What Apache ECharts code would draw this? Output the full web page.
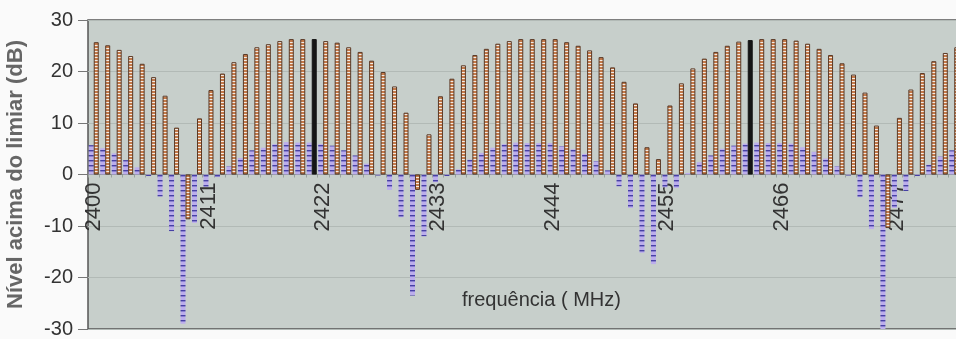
<!DOCTYPE html>
<html>
<head>
<meta charset="utf-8">
<script src="https://cdn.jsdelivr.net/npm/echarts@6/dist/echarts.min.js"></script>
<style>
  html, body { margin: 0; padding: 0; overflow: hidden; background: #fafafa; }
  #graph1 { width: 966px; height: 339px; }
</style>
</head>
<body>
<div id="graph1"></div>
<script>
var myChart1 = echarts.init(document.getElementById('graph1'));

// frequency steps of 1.1 MHz, label shown every 10th
var freq = ['2400','2401.1','2402.2','2403.3','2404.4','2405.5','2406.6','2407.7','2408.8','2409.9',
  '2411','2412.1','2413.2','2414.3','2415.4','2416.5','2417.6','2418.7','2419.8','2420.9',
  '2422','2423.1','2424.2','2425.3','2426.4','2427.5','2428.6','2429.7','2430.8','2431.9',
  '2433','2434.1','2435.2','2436.3','2437.4','2438.5','2439.6','2440.7','2441.8','2442.9',
  '2444','2445.1','2446.2','2447.3','2448.4','2449.5','2450.6','2451.7','2452.8','2453.9',
  '2455','2456.1','2457.2','2458.3','2459.4','2460.5','2461.6','2462.7','2463.8','2464.9',
  '2466','2467.1','2468.2','2469.3','2470.4','2471.5','2472.6','2473.7','2474.8','2475.9',
  '2477','2478.1','2479.2','2480.3','2481.4','2482.5'];

// blue dotted series
var nivelA = [5.7,5.1,4.1,2.8,1.4,-0.3,-4.3,-11.0,-29.0,-9.4,
  -2.4,-0.5,1.6,3.2,4.7,5.2,5.9,6.3,6.2,6.2,
  5.9,5.6,4.7,3.7,2.1,-0.2,-3.0,-8.3,-23.5,-12.0,
  -1.5,-0.3,1.0,2.9,4.2,5.2,5.9,6.2,6.1,6.1,
  6.1,5.5,4.9,4.0,2.6,0.8,-2.3,-6.5,-15.2,-17.4,
  -2.5,-2.6,0.3,2.4,3.7,5.0,5.6,6.0,6.2,6.1,
  6.1,6.0,5.3,4.4,3.1,1.6,-0.2,-4.4,-10.6,-30.0,
  -6.5,-3.2,-0.3,1.9,3.5,4.7];

// brown ladder series
var nivelB = [25.7,25.1,24.2,23.0,21.5,18.9,15.3,9.1,-8.7,10.9,
  16.4,19.6,21.8,23.4,24.7,25.3,25.9,26.3,26.3,26.3,
  25.9,25.6,24.7,23.8,22.1,19.9,17.1,12.0,-3.0,7.8,
  15.2,18.6,21.2,23.2,24.4,25.4,25.9,26.3,26.3,26.3,
  26.3,25.7,25.0,24.1,22.8,20.8,18.0,13.8,5.3,3.0,
  13.4,17.7,20.6,22.5,23.8,25.0,25.8,26.1,26.3,26.3,
  26.3,26.0,25.4,24.4,23.2,21.6,19.4,15.9,9.5,-10.4,
  11.0,16.5,19.7,22.0,23.6,24.7];

// bars drawn solid black
var blackBars = [19, 57];

var yTicks = [-30, -20, -10, 0, 10, 20, 30];

// grid height is 309, zero sits in the middle
var gridTop = 20, gridBottom = 10, gridH = 339 - gridTop - gridBottom;

function stripes(rows) {
  var c = document.createElement('canvas');
  c.width = 1; c.height = rows.length;
  var ctx = c.getContext('2d');
  for (var i = 0; i < rows.length; i++) {
    ctx.fillStyle = rows[i];
    ctx.fillRect(0, i, 1, 1);
  }
  return { image: c, repeat: 'repeat' };
}

var bluePat = stripes(['#4640a4','#8a80d0','#bcaeec','#bcaeec','#bcaeec']);
var brownPat = stripes(['#f4ede6','#c47a4a','#c47a4a']);

var brownData = nivelB.map(function (v, i) {
  if (blackBars.indexOf(i) >= 0) {
    return { value: v, itemStyle: { color: '#151515', borderColor: '#151515' } };
  }
  return v;
});

var option = {
  backgroundColor: '#fafafa',
  animation: false,
  title: {
    text: 'frequência ( MHz)',
    left: 457, top: 285,
    textStyle: { fontFamily: 'Liberation Sans, Arial', fontSize: 20, fontWeight: 'normal', color: '#333' }
  },
  grid: {
    left: 88, top: gridTop, right: 6, bottom: gridBottom,
    outerBoundsMode: 'none', containLabel: false,
    show: true, backgroundColor: '#c7cfcb', borderColor: '#555', borderWidth: 1.5
  },
  xAxis: {
    type: 'category',
    data: freq,
    position: 'bottom',
    offset: -gridH / 2,   // put the axis on the zero line
    axisLine: { onZero: false, lineStyle: { color: '#7d8581', width: 1 } },
    axisTick: { show: true, interval: 0, length: 3, lineStyle: { color: '#99a19d' } },
    axisLabel: {
      interval: 9, rotate: 90, margin: 8,
      fontFamily: 'Liberation Sans, Arial', fontSize: 22, color: '#333'
    },
    splitLine: { show: false }
  },
  yAxis: {
    type: 'value',
    min: yTicks[0], max: yTicks[yTicks.length - 1], interval: 10,
    name: 'Nível acima do limiar (dB)',
    nameLocation: 'middle', nameGap: 61,
    nameTextStyle: { fontFamily: 'Liberation Sans, Arial', fontSize: 22, fontWeight: 'bold', color: '#666' },
    axisLine: { show: false },
    axisTick: { show: true, length: 10, lineStyle: { color: '#777' } },
    axisLabel: { fontFamily: 'Liberation Sans, Arial', fontSize: 20, color: '#333', margin: 15 },
    splitLine: { show: true, lineStyle: { color: '#b2bab6', width: 1 } }
  },
  series: [
    {
      name: 'A', type: 'bar', data: nivelA,
      barWidth: 5, barGap: '0%',
      itemStyle: { color: bluePat }
    },
    {
      name: 'B', type: 'bar', data: brownData,
      barWidth: 5, barGap: '0%',
      itemStyle: { color: brownPat, borderColor: '#5a3926', borderWidth: 1 }
    }
  ]
};
myChart1.setOption(option);
</script>
</body>
</html>
